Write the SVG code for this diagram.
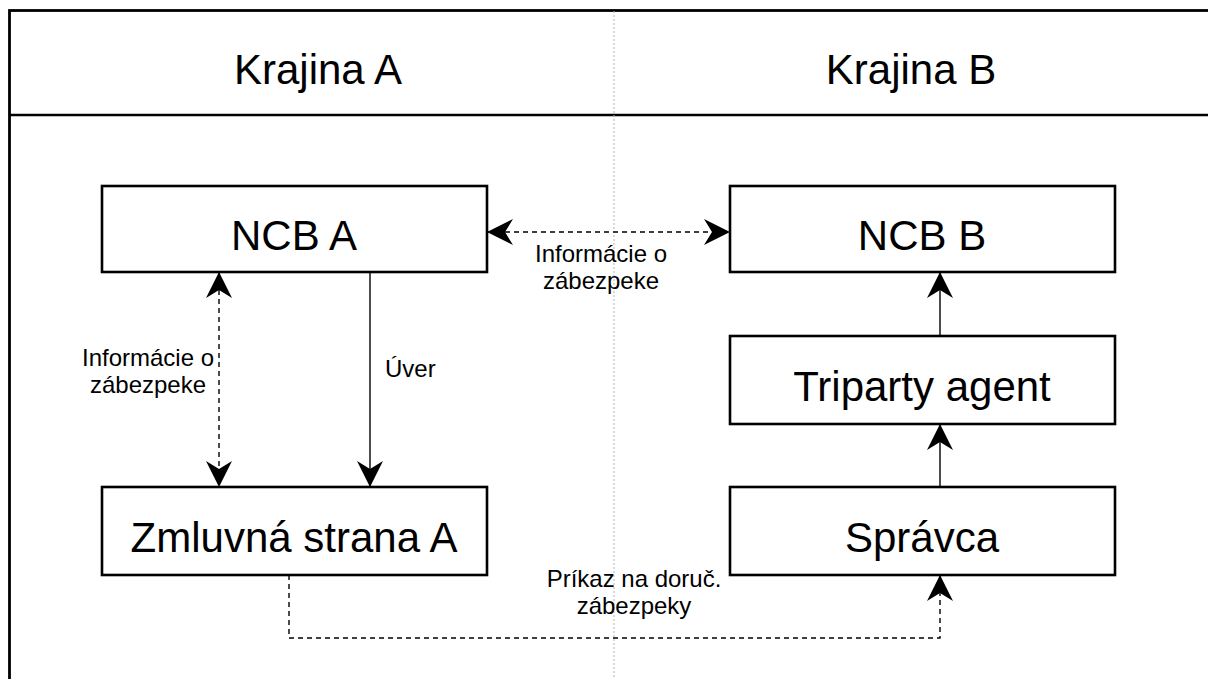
<svg xmlns="http://www.w3.org/2000/svg" width="1208" height="679" viewBox="0 0 1208 679">
<style>
  .box{fill:#fff;stroke:#000;stroke-width:2.6}
  .big{font-family:"Liberation Sans",Arial,sans-serif;font-size:42px;fill:#000;text-anchor:middle}
  .lbl{font-family:"Liberation Sans",Arial,sans-serif;font-size:24px;fill:#000}
  .con{fill:none;stroke:#000;stroke-width:1.4}
  .dash{stroke-dasharray:5 4}
</style>
<defs>
  <marker id="arr" viewBox="0 0 26 26" refX="26" refY="13" markerWidth="26" markerHeight="26" markerUnits="userSpaceOnUse" orient="auto-start-reverse">
    <path d="M26,13 L0,0 L8,13 L0,26 Z" fill="#000"/>
  </marker>
</defs>
<rect width="1208" height="679" fill="#fff"/>
<g id="frame">
  <rect x="9.5" y="10.5" width="1220" height="700" fill="none" stroke="#000" stroke-width="2.8"/>
  <line x1="9.5" y1="115" x2="1220" y2="115" stroke="#000" stroke-width="2.6"/>
  <line x1="614" y1="11" x2="614" y2="679" stroke="#b3b3b3" stroke-width="1" stroke-dasharray="2 2"/>
</g>
<g id="header-a"><text class="big" x="318" y="84">Krajina A</text></g>
<g id="header-b"><text class="big" x="911" y="84">Krajina B</text></g>
<g id="connectors">
  <line class="con dash" x1="487" y1="232" x2="730" y2="232" marker-start="url(#arr)" marker-end="url(#arr)"/>
  <line class="con dash" x1="219" y1="272" x2="219" y2="487" marker-start="url(#arr)" marker-end="url(#arr)"/>
  <line class="con" x1="370" y1="272" x2="370" y2="487" marker-end="url(#arr)"/>
  <line class="con" x1="940" y1="336" x2="940" y2="272" marker-end="url(#arr)"/>
  <line class="con" x1="940" y1="487" x2="940" y2="424" marker-end="url(#arr)"/>
  <polyline class="con dash" points="289,575 289,638 940,638 940,575" marker-end="url(#arr)"/>
  <text class="lbl" x="601" y="262" text-anchor="middle">Informácie o</text>
  <text class="lbl" x="601" y="289" text-anchor="middle">zábezpeke</text>
  <text class="lbl" x="148" y="366" text-anchor="middle">Informácie o</text>
  <text class="lbl" x="148" y="393" text-anchor="middle">zábezpeke</text>
  <text class="lbl" x="385" y="377">Úver</text>
  <text class="lbl" x="634" y="587" text-anchor="middle">Príkaz na doruč.</text>
  <text class="lbl" x="634" y="614" text-anchor="middle">zábezpeky</text>
</g>
<g id="ncb-a"><rect class="box" x="102" y="186" width="385" height="86"/><text class="big" x="294" y="250">NCB A</text></g>
<g id="ncb-b"><rect class="box" x="730" y="186" width="385" height="86"/><text class="big" x="922" y="250">NCB B</text></g>
<g id="triparty"><rect class="box" x="730" y="336" width="385" height="88"/><text class="big" x="922" y="401">Triparty agent</text></g>
<g id="spravca"><rect class="box" x="730" y="487" width="385" height="88"/><text class="big" x="922" y="552">Správca</text></g>
<g id="zmluvna"><rect class="box" x="102" y="487" width="385" height="88"/><text class="big" x="294" y="552">Zmluvná strana A</text></g>
</svg>
